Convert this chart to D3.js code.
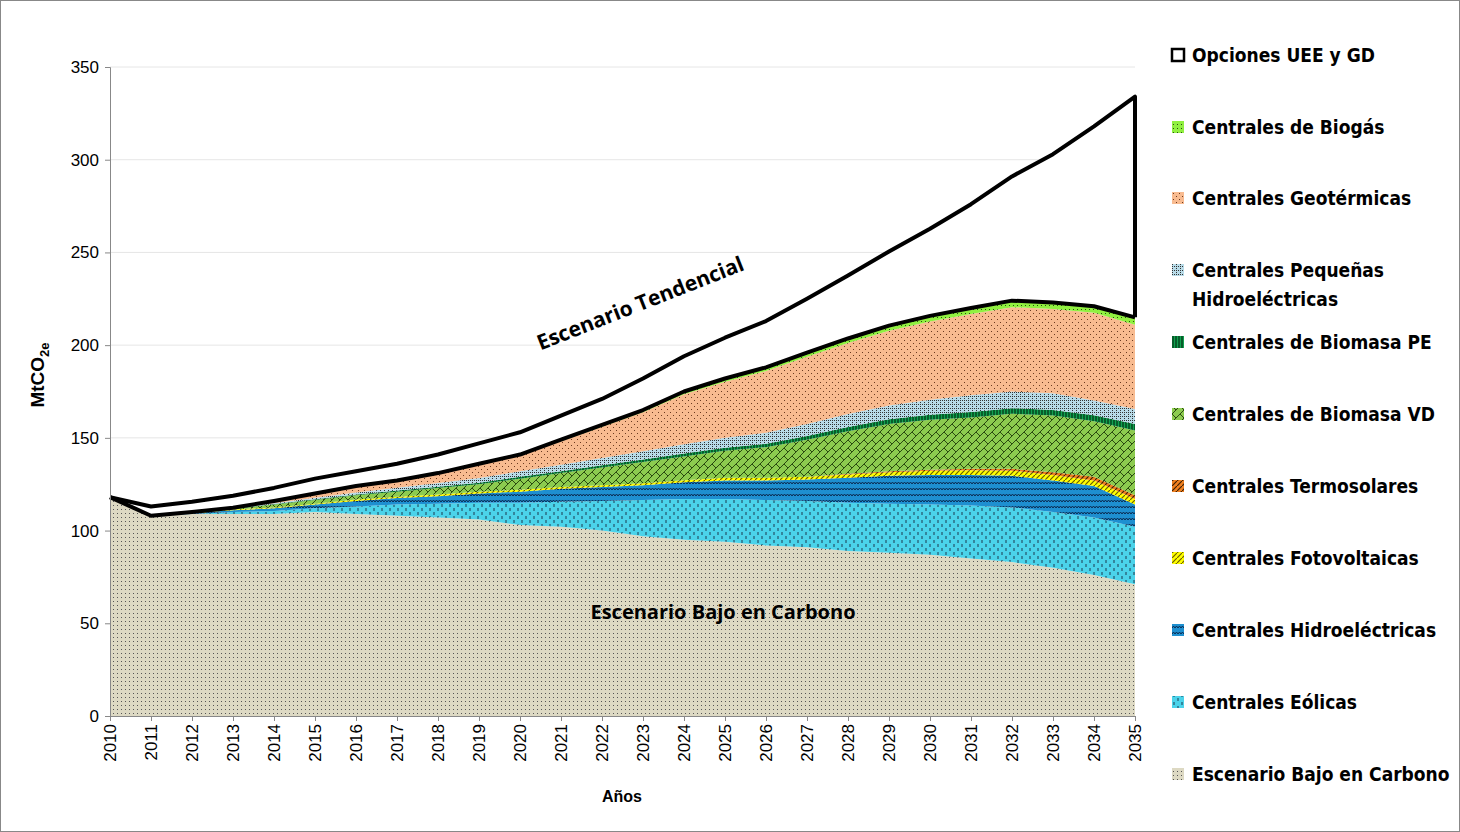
<!DOCTYPE html>
<html><head><meta charset="utf-8">
<script src="https://cdn.jsdelivr.net/npm/d3@7"></script>
<style>body{margin:0;background:#fff}svg{display:block}</style>
</head><body>
<svg id="chart" width="1460" height="832"></svg>
<script>
const years = d3.range(2010, 2036);
const base  = [118,108,109,109,109,110,109,108,107,106,103,102,100,97,95,94,92,91,89,88,87,85,83,80,76,71];
const eol   = [0,0,0,1,1.5,2,4,6,7.5,9,12,13.5,16,19.5,22,23,24.5,25,26,26.5,27,28.5,29.5,30,31,31];
const hidro = [0,0,0.5,1,1.5,2,3,3.5,4,5,6,7,7.5,8,9,10,10.5,11.5,13.5,15,16,16.5,17,17,17,12];
const foto  = [0,0,0,0.3,0.5,0.5,0.7,0.8,1,1,1,1,1,1,1.2,1.5,1.5,1.5,1.8,2,2.2,2.5,2.8,3,3,3];
const termo = [0,0,0,0,0,0,0,0,0,0,0,0,0,0,0,0,0,0,0.3,0.5,0.6,0.8,1,1.5,2,2];
const bioVD = [0,0,0.5,0.5,1.5,2,2.3,2.7,3.5,4,6,7.5,9.5,11.5,12.8,14.5,16.5,20,23,25.5,27,27.7,29.7,30.5,30,35];
const bioPE = [0,0,0,0.2,0.3,0.4,0.5,0.6,0.7,0.8,1,1,1.2,1.3,1.5,1.6,1.8,2,2.2,2.5,2.7,3,3,3,3.2,3.5];
const peq   = [0,0,0,0.3,0.5,0.8,1,1.5,2,2.5,3,3.5,4,4.5,5,5.5,6,6.5,7,7.5,8,9,9,9,8,8];
const geo   = [0,0,0,0,1.2,2.2,3.3,3.6,4.9,7.2,8.4,12.7,16.8,21,27,30.2,33.2,36.3,38.3,40.2,42.3,43.8,45.5,45.5,47.3,45.5];
const biogas= [0,0,0,0,0,0.1,0.2,0.3,0.4,0.5,0.6,0.8,1,1.2,1.5,1.7,2,2.2,2.5,2.8,3,3.2,3.5,3.5,3.5,4];
const uee   = [0,5,5.5,6.5,7,8,8,9,10,11,12,13,14,17,19,22,25,29,34,40,47,56,67,80,97,119];
const yTicks = [0,50,100,150,200,250,300,350];

const series = [
  {key:"base", name:"Escenario Bajo en Carbono", v:base, fill:"#ddd9c3", pat:"dots", ink:"#555"},
  {key:"eol", name:"Centrales Eólicas", v:eol, fill:"#4bd3ea", pat:"vdash", ink:"#1a3a50"},
  {key:"hidro", name:"Centrales Hidroeléctricas", v:hidro, fill:"#1e8fd0", pat:"zig", ink:"#0a2a50"},
  {key:"foto", name:"Centrales Fotovoltaicas", v:foto, fill:"#ffff00", pat:"diag", ink:"#6a6000"},
  {key:"termo", name:"Centrales Termosolares", v:termo, fill:"#f08020", pat:"diag", ink:"#402000"},
  {key:"bioVD", name:"Centrales de Biomasa VD", v:bioVD, fill:"#8ccb4f", pat:"cross", ink:"#2a4a10"},
  {key:"bioPE", name:"Centrales de Biomasa PE", v:bioPE, fill:"#11a050", pat:"vline", ink:"#003010"},
  {key:"peq", name:"Centrales Pequeñas|Hidroeléctricas", v:peq, fill:"#b8dbe8", pat:"grid", ink:"#333"},
  {key:"geo", name:"Centrales Geotérmicas", v:geo, fill:"#f8bb90", pat:"dots2", ink:"#6a3a20"},
  {key:"biogas", name:"Centrales de Biogás", v:biogas, fill:"#90f040", pat:"dots", ink:"#2a5010"},
  {key:"uee", name:"Opciones UEE y GD", v:uee, fill:"#ffffff", pat:null, ink:"#000"}
];

const svg = d3.select("#chart");
svg.append("rect").attr("x",0.5).attr("y",0.5).attr("width",1459).attr("height",831)
  .attr("fill","#fff").attr("stroke","#888");

const defs = svg.append("defs");
series.forEach(s => {
  if (!s.pat) return;
  const p = defs.append("pattern").attr("id","p-"+s.key).attr("patternUnits","userSpaceOnUse");
  const sz = {dots:4, dots2:6, vdash:8, zig:6, diag:5, cross:8, vline:3, grid:4}[s.pat];
  p.attr("width",sz).attr("height",sz);
  p.append("rect").attr("width",sz).attr("height",sz).attr("fill",s.fill);
  const g = p.append("g").attr("stroke",s.ink).attr("fill",s.ink).attr("stroke-width",1);
  if (s.pat==="dots") g.append("rect").attr("x",1).attr("y",1).attr("width",1).attr("height",1).attr("stroke","none");
  if (s.pat==="dots2") { g.append("rect").attr("x",1).attr("y",1).attr("width",1).attr("height",1).attr("stroke","none");
    g.append("rect").attr("x",4).attr("y",4).attr("width",1).attr("height",1).attr("stroke","none"); }
  if (s.pat==="vdash") { g.append("line").attr("x1",2).attr("x2",2).attr("y1",0).attr("y2",3);
    g.append("line").attr("x1",6).attr("x2",6).attr("y1",4).attr("y2",7); }
  if (s.pat==="zig") g.append("path").attr("fill","none").attr("d","M0,4 L1.5,2 L3,4 L4.5,2 L6,4");
  if (s.pat==="diag") g.append("path").attr("d","M0,5 L5,0").attr("stroke-width",1.2);
  if (s.pat==="cross") g.append("path").attr("fill","none").attr("d","M0,8 L8,0 M0,0 L4,4");
  if (s.pat==="vline") g.append("line").attr("x1",1).attr("x2",1).attr("y1",0).attr("y2",3).attr("stroke-width",1.2);
  if (s.pat==="grid") { g.append("rect").attr("x",0).attr("y",0).attr("width",1).attr("height",1).attr("stroke","none");
    g.append("rect").attr("x",2).attr("y",0).attr("width",1).attr("height",1).attr("stroke","none");
    g.append("rect").attr("x",0).attr("y",2).attr("width",1).attr("height",1).attr("stroke","none"); }
});
const fillOf = s => s.pat ? `url(#p-${s.key})` : s.fill;

const x = d3.scaleLinear().domain([2010,2035]).range([110,1135]);
const y = d3.scaleLinear().domain([0,350]).range([716,67]);

// grid
svg.append("g").selectAll("line").data(yTicks.slice(1)).join("line")
  .attr("x1",110).attr("x2",1135).attr("y1",d=>y(d)).attr("y2",d=>y(d))
  .attr("stroke","#e6e6e6");

const rows = years.map((yr,i) => { const o={year:yr}; series.forEach(s=>o[s.key]=s.v[i]); return o; });
const stacked = d3.stack().keys(series.map(s=>s.key))(rows);
const area = d3.area().x(d=>x(d.data.year)).y0(d=>y(d[0])).y1(d=>y(d[1]));

svg.append("g").selectAll("path").data(stacked).join("path")
  .attr("d",area).attr("fill",(d,i)=>fillOf(series[i]));

// outlines: low-carbon top and UEE shape
const lcLayer = stacked[stacked.length-2];
const tendLayer = stacked[stacked.length-1];
svg.append("path").datum(tendLayer).attr("fill","none").attr("stroke","#000").attr("stroke-width",4)
  .attr("stroke-linejoin","round")
  .attr("d", d => d3.line().x(p=>x(p.data.year)).y(p=>y(p[1]))(d) + "L" + x(2035) + "," + y(lcLayer[25][1]));
svg.append("path").datum(lcLayer).attr("fill","none").attr("stroke","#000").attr("stroke-width",4)
  .attr("stroke-linejoin","round")
  .attr("d", d3.line().x(p=>x(p.data.year)).y(p=>y(p[1])));

// axes
const ya = svg.append("g").attr("transform","translate(110,0)")
  .call(d3.axisLeft(y).tickValues(yTicks).tickSize(5).tickPadding(6));
const xa = svg.append("g").attr("transform","translate(0,716)")
  .call(d3.axisBottom(x).tickValues(years).tickFormat(d3.format("d")).tickSize(5));
[ya,xa].forEach(a=>{ a.select(".domain").attr("stroke","#888"); a.selectAll(".tick line").attr("stroke","#888");
  a.selectAll("text").attr("font-family","Liberation Sans, Arial").attr("font-size",17).attr("fill","#000"); });
xa.selectAll("text").attr("transform","rotate(-90)").attr("text-anchor","end")
  .attr("x",-8).attr("y",0).attr("dy","0.35em");

svg.append("text").attr("x",622).attr("y",802).attr("text-anchor","middle")
  .attr("font-family","Liberation Sans, Arial").attr("font-weight","bold").attr("font-size",16).text("Años");
const yl = svg.append("text").attr("transform","translate(44,375) rotate(-90)").attr("text-anchor","middle")
  .attr("font-family","Liberation Sans, Arial").attr("font-weight","bold").attr("font-size",19);
yl.append("tspan").text("MtCO");
yl.append("tspan").attr("font-size",13).attr("dy",5).text("2e");

svg.append("text").attr("transform","translate(643,310) rotate(-21.5)").attr("text-anchor","middle")
  .attr("font-family","Open Sans, sans-serif").attr("font-weight","bold").attr("font-size",21).text("Escenario Tendencial");
svg.append("text").attr("x",723).attr("y",619).attr("text-anchor","middle")
  .attr("font-family","Open Sans, sans-serif").attr("font-weight","bold").attr("font-size",20).text("Escenario Bajo en Carbono");

// legend
const legY = [55,127,198,270,342,414,486,558,630,702,774];
const leg = svg.append("g").selectAll("g").data(series.slice().reverse()).join("g")
  .attr("transform",(d,i)=>`translate(1172,${legY[i]})`);
leg.append("rect").attr("x",0).attr("y",-6).attr("width",12).attr("height",12)
  .attr("fill",d=>fillOf(d)).attr("stroke",d=>d.key==="uee"?"#000":"none").attr("stroke-width",d=>d.key==="uee"?2.5:0);
leg.append("text").attr("x",20).attr("y",0)
  .attr("font-family","DejaVu Sans Condensed, DejaVu Sans").attr("font-stretch","condensed")
  .attr("font-weight","bold").attr("font-size",19)
  .each(function(d){ const t=d3.select(this); d.name.split("|").forEach((s,k)=>
    t.append("tspan").attr("x",20).attr("dy",k?"1.55em":"0.35em").text(s)); });
</script>
</body></html>
